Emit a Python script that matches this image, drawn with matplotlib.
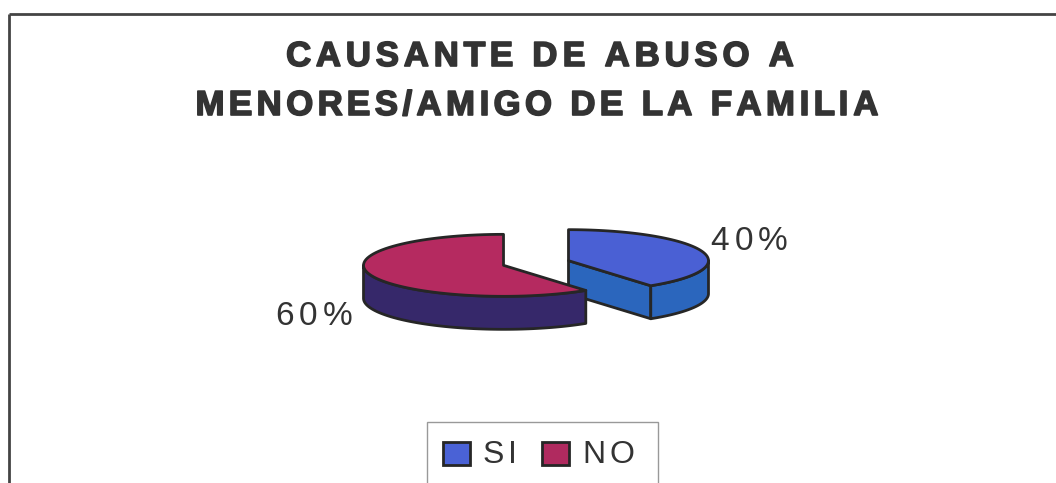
import numpy as np
import matplotlib
matplotlib.use('Agg')
import matplotlib.pyplot as plt
import matplotlib.patheffects as pe
from matplotlib.patches import Polygon, Rectangle

# data
categories = ['SI', 'NO']
values = [40, 60]
title_lines = ['CAUSANTE DE ABUSO A', 'MENORES/AMIGO DE LA FAMILIA']

# colours: top face, side face
top_colors = ['#4a60d4', '#b52a60']
side_colors = ['#2b66bd', '#36286a']
legend_colors = ['#4a62d6', '#b02a5f']
edge = '#262626'
text_col = '#333333'

W, H = 1056, 483
fig = plt.figure(figsize=(W / 100, H / 100), dpi=100)
ax = fig.add_axes([0, 0, 1, 1])
ax.set_xlim(0, W)
ax.set_ylim(H, 0)
ax.axis('off')
renderer = fig.canvas.get_renderer()


def tracked_text(x, y, s, size, track, ha='center', va='baseline', heavy=0.0, **kw):
    # draw a string one char at a time with extra letter spacing
    ref = ax.text(0, 0, 'HH', fontsize=size, **kw)
    wref = ref.get_window_extent(renderer).width
    ref.remove()
    widths = []
    for c in s:
        t = ax.text(0, 0, 'H' + c + 'H', fontsize=size, **kw)
        widths.append(t.get_window_extent(renderer).width - wref)
        t.remove()
    total = sum(widths) + track * (len(s) - 1)
    if ha == 'center':
        xpos = x - total / 2
    elif ha == 'right':
        xpos = x - total
    else:
        xpos = x
    fx = [pe.withStroke(linewidth=heavy, foreground=kw.get('color', 'k'))] if heavy else []
    for c, w in zip(s, widths):
        ax.text(xpos, y, c, fontsize=size, ha='left', va=va, path_effects=fx, **kw)
        xpos += w + track


# outer frame (runs off the right and bottom)
ax.plot([9, W + 5], [14, 14], color='#444444', lw=2, solid_capstyle='butt')
ax.plot([9, 9], [14, H + 5], color='#444444', lw=2, solid_capstyle='butt')

# title
font = 'Liberation Sans'
tracked_text(540, 66, title_lines[0], 25, 4.8, heavy=1.2, family=font, weight='bold', color=text_col)
tracked_text(537, 115, title_lines[1], 25, 4.4, heavy=1.2, family=font, weight='bold', color=text_col)

# 3d exploded pie
cx, cy = 536, 263
rx, ry = 140, 31
depth = 33
explode = 0.244


def rim(x0, y0, t):
    t = np.radians(t)
    return x0 + rx * np.cos(t), y0 - ry * np.sin(t)


def arc(x0, y0, a, b, dy=0):
    ts = np.linspace(a, b, 80)
    xs, ys = rim(x0, y0, ts)
    return np.column_stack([xs, ys + dy])


def front_part(a, b):
    # piece of [a, b] on the near half of the ellipse
    for lo, hi in [(-180, 0), (180, 360)]:
        s, e = max(a, lo), min(b, hi)
        if e > s:
            return s, e
    return None


total = float(sum(values))
start = 90.0
slices = []
for i, v in enumerate(values):
    t2 = start
    t1 = start - 360.0 * v / total
    start = t1
    mid = np.radians((t1 + t2) / 2)
    x0 = cx + explode * rx * np.cos(mid)
    y0 = cy - explode * ry * np.sin(mid)
    slices.append((i, t1, t2, x0, y0, mid))

for i, t1, t2, x0, y0, mid in slices:
    # radial side faces that face the viewer
    for t, vis in [(t1, np.cos(np.radians(t1)) > 1e-9), (t2, np.cos(np.radians(t2)) < -1e-9)]:
        if vis:
            px, py = rim(x0, y0, t)
            face = [(x0, y0), (px, py), (px, py + depth), (x0, y0 + depth)]
            ax.add_patch(Polygon(face, closed=True, fc=side_colors[i], ec=edge, lw=2, joinstyle='round'))
    # curved outer wall
    fp = front_part(t1, t2)
    if fp is not None:
        topa = arc(x0, y0, fp[0], fp[1])
        bota = arc(x0, y0, fp[0], fp[1], depth)[::-1]
        ax.add_patch(Polygon(np.vstack([topa, bota]), closed=True, fc=side_colors[i], ec=edge, lw=2, joinstyle='round'))
    # top face
    top = np.vstack([[x0, y0], arc(x0, y0, t1, t2)])
    ax.add_patch(Polygon(top, closed=True, fc=top_colors[i], ec=edge, lw=2, joinstyle='round'))

    # percentage label
    pct = '%d%%' % round(100 * values[i] / total)
    lx, ly = rim(x0, y0, np.degrees(mid))
    if np.cos(mid) >= 0:
        lx, ha = lx + 9, 'left'
    else:
        lx, ha = lx - 18, 'right'
    ly = ly - 10 if np.sin(mid) > 0 else ly + depth + 9
    tracked_text(lx, ly, pct, 24, 5, ha=ha, va='center', family=font, color=text_col)

# legend
ax.add_patch(Rectangle((427, 422), 231, 70, fc='white', ec='#999999', lw=1))
for i, (name, x) in enumerate(zip(categories, [443, 542])):
    ax.add_patch(Rectangle((x, 442), 27, 23, fc=legend_colors[i], ec=edge, lw=2))
    tracked_text(x + 40, 463, name, 23, 4, ha='left', family=font, color=text_col)

fig.savefig('out.png', dpi=100, facecolor='white')
